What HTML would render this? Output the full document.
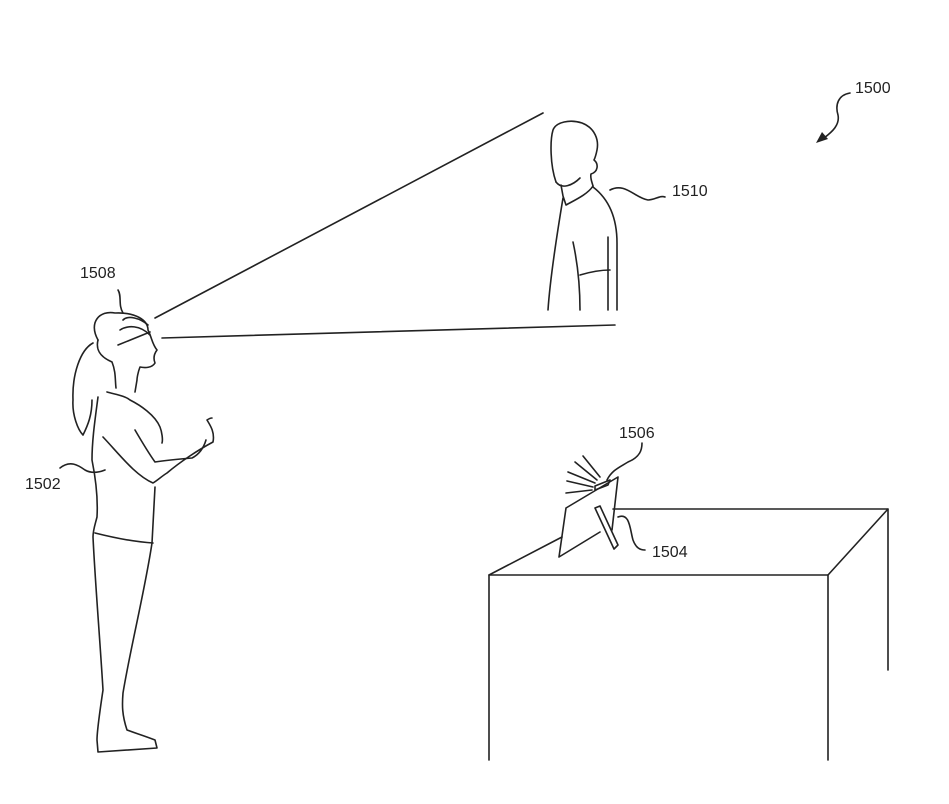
<!DOCTYPE html>
<html><head><style>
html,body{margin:0;padding:0;background:#fff;}
svg{display:block;}
text{font-family:"Liberation Sans",sans-serif;font-size:16px;fill:#222;}
</style></head><body>
<svg width="949" height="804" viewBox="0 0 949 804" xmlns="http://www.w3.org/2000/svg">
<g fill="none" stroke="#222" stroke-width="1.6" stroke-linecap="round" stroke-linejoin="round">
<!-- sight lines -->
<line x1="155" y1="318" x2="543" y2="113"/>
<line x1="162" y1="338" x2="615" y2="325"/>
<!-- man -->
<path d="M556,182 C550,165 550,140 553,130 C556,122 570,119 582,123 C595,128 599,140 597,150 C596,155 595,158 594,160 C599,164 598,172 591,174 C590,178 592,182 593,186"/>
<path d="M556,182 C562,190 573,185 580,178"/>
<path d="M561,185 L563,196 L566,205 C575,200 588,194 593,186"/>
<path d="M563,198 C556,240 550,280 548,310"/>
<path d="M593,187 C610,200 617,220 617,243 L617,310"/>
<path d="M573,242 C578,265 580,290 580,310"/>
<path d="M580,275 C590,272 600,270 610,270"/>
<path d="M608,237 L608,310"/>
<path d="M610,190 C625,182 635,198 648,200 C655,200 660,195 665,197"/>
<!-- woman -->
<path d="M98,340 C88,322 100,310 115,313 C135,312 148,320 148,330 C152,338 152,344 157,350 C154,354 153,358 155,363 C152,368 145,368 140,367 C138,372 137,378 137,380 L135,392"/>
<path d="M98,340 C96,348 98,356 112,362 C116,372 115,380 116,388"/>
<path d="M123,320 C128,315 140,318 148,325 M120,330 C128,325 140,325 150,335 M118,345 L150,332"/>
<path d="M123,313 C118,305 122,296 118,290"/>
<path d="M93,343 C80,350 72,375 73,400 C72,415 78,430 83,435 C88,425 92,415 92,400"/>
<path d="M107,392 C118,395 125,396 130,400 C140,405 155,415 160,427 C162,432 163,440 162,443"/>
<path d="M98,397 C95,420 92,440 92,460 C96,480 98,500 97,517 C95,525 93,530 93,537 C95,580 100,640 103,690 C100,710 97,730 97,740 L98,752 L157,748 L155,740 C145,736 135,733 127,730 C122,715 122,705 123,693 C130,650 145,590 152,543 L155,487"/>
<path d="M95,533 C115,538 135,542 153,543"/>
<path d="M103,437 C120,455 135,475 153,483 C158,480 162,476 167,473 C180,462 198,450 213,442 C215,432 210,425 207,420 C210,418 212,418 212,418"/>
<path d="M135,430 C142,442 150,455 155,462 C168,460 180,459 192,458 C198,455 203,450 206,440"/>
<path d="M60,468 C70,460 78,465 85,470 C92,474 100,472 105,470"/>
<!-- table -->
<path d="M489,760 L489,575 L828,575 L828,760"/>
<path d="M489,575 L562,537"/>
<path d="M613,509 L888,509 L828,575"/>
<path d="M888,509 L888,670"/>
<!-- tablet -->
<path d="M566,508 L618,477 L612,530 M559,557 L600,532 M566,508 L559,557"/>
<path d="M595,508 L600,506 L618,545 L614,549 Z"/>
<path d="M595,486 L610,480 L608,485 L595,490 Z"/>
<line x1="583" y1="456" x2="600" y2="477"/>
<line x1="575" y1="462" x2="597" y2="480"/>
<line x1="568" y1="472" x2="595" y2="483"/>
<line x1="567" y1="481" x2="593" y2="487"/>
<line x1="566" y1="493" x2="592" y2="490"/>
<path d="M607,480 C612,470 620,467 628,462 C640,457 642,450 642,443"/>
<path d="M618,517 C630,512 630,530 633,540 C636,548 640,550 645,550"/>
<!-- 1500 arrow -->
<path d="M850,93 C838,95 835,105 838,115 C840,125 832,132 824,138"/>
</g>
<polygon points="816,143 822,132 828,139" fill="#222"/>
<text x="855" y="93">1500</text>
<text x="672" y="196">1510</text>
<text x="80" y="278">1508</text>
<text x="25" y="489">1502</text>
<text x="619" y="438">1506</text>
<text x="652" y="557">1504</text>
</svg>
</body></html>
